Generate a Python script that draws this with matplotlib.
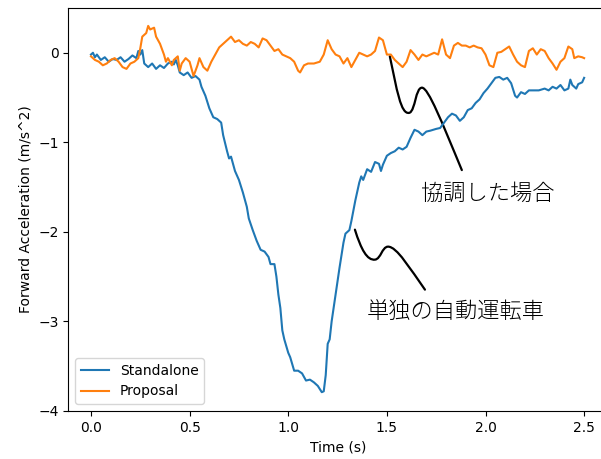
import numpy as np
import matplotlib
matplotlib.use("Agg")
import matplotlib.pyplot as plt
from matplotlib.path import Path
from matplotlib.patches import PathPatch

# ---- data ----
standalone_t = [0.00, 0.01, 0.02, 0.03, 0.05, 0.07, 0.09, 0.11, 0.13, 0.15, 0.17, 0.19, 0.21, 0.23,
                0.24, 0.25, 0.26, 0.27, 0.29, 0.31, 0.33, 0.35, 0.37, 0.39, 0.41, 0.42, 0.43, 0.44,
                0.45, 0.47, 0.49, 0.51, 0.53, 0.55, 0.56, 0.58, 0.60, 0.62, 0.64, 0.66, 0.67, 0.69,
                0.70, 0.71, 0.73, 0.75, 0.77, 0.79, 0.80, 0.82, 0.84, 0.86, 0.88, 0.90, 0.91, 0.93,
                0.94, 0.95, 0.96, 0.97, 0.98, 1.00, 1.01, 1.03, 1.05, 1.07, 1.09, 1.11, 1.13, 1.15,
                1.17, 1.18, 1.19, 1.20, 1.21, 1.22, 1.24, 1.26, 1.28, 1.29, 1.31, 1.32, 1.34, 1.36,
                1.37, 1.38, 1.40, 1.42, 1.44, 1.46, 1.47, 1.48, 1.50, 1.52, 1.54, 1.56, 1.58, 1.60,
                1.62, 1.64, 1.66, 1.68, 1.70, 1.72, 1.75, 1.77, 1.79, 1.81, 1.83, 1.85, 1.87, 1.89,
                1.91, 1.93, 1.95, 1.97, 1.99, 2.01, 2.03, 2.05, 2.07, 2.09, 2.11, 2.13, 2.15, 2.16,
                2.18, 2.20, 2.22, 2.24, 2.27, 2.30, 2.32, 2.34, 2.36, 2.38, 2.40, 2.42, 2.43, 2.44,
                2.46, 2.47, 2.49, 2.50]
standalone_a = [-0.02, 0.00, -0.05, -0.02, -0.08, -0.05, -0.10, -0.07, -0.08, -0.05, -0.10, -0.07, -0.03, -0.06,
                0.02, -0.02, 0.03, -0.12, -0.16, -0.12, -0.18, -0.14, -0.17, -0.12, -0.10, -0.13, -0.08, -0.14,
                -0.22, -0.25, -0.22, -0.28, -0.26, -0.30, -0.38, -0.48, -0.62, -0.72, -0.74, -0.78, -0.92, -1.10,
                -1.18, -1.16, -1.32, -1.42, -1.56, -1.72, -1.85, -1.98, -2.10, -2.20, -2.22, -2.28, -2.36, -2.36,
                -2.50, -2.70, -2.85, -3.10, -3.20, -3.35, -3.40, -3.55, -3.55, -3.58, -3.66, -3.65, -3.68, -3.72,
                -3.79, -3.78, -3.60, -3.25, -3.20, -3.00, -2.70, -2.40, -2.12, -2.02, -1.98, -1.88, -1.65, -1.45,
                -1.38, -1.42, -1.30, -1.33, -1.22, -1.24, -1.32, -1.25, -1.15, -1.12, -1.10, -1.06, -1.08, -1.05,
                -0.95, -0.86, -0.88, -0.92, -0.88, -0.87, -0.85, -0.84, -0.78, -0.72, -0.68, -0.70, -0.76, -0.72,
                -0.64, -0.62, -0.56, -0.52, -0.45, -0.40, -0.34, -0.28, -0.27, -0.30, -0.28, -0.34, -0.48, -0.50,
                -0.44, -0.46, -0.42, -0.42, -0.42, -0.40, -0.42, -0.38, -0.40, -0.36, -0.42, -0.40, -0.30, -0.36,
                -0.40, -0.35, -0.33, -0.28]

proposal_t = [0.00, 0.02, 0.04, 0.06, 0.08, 0.10, 0.12, 0.14, 0.16, 0.18, 0.20, 0.22, 0.24, 0.25,
              0.26, 0.28, 0.29, 0.30, 0.32, 0.33, 0.35, 0.36, 0.37, 0.38, 0.39, 0.41, 0.42, 0.44,
              0.45, 0.46, 0.48, 0.50, 0.52, 0.54, 0.55, 0.57, 0.59, 0.61, 0.63, 0.65, 0.67, 0.69,
              0.71, 0.73, 0.75, 0.77, 0.79, 0.81, 0.83, 0.85, 0.87, 0.89, 0.91, 0.93, 0.95, 0.97,
              0.99, 1.01, 1.03, 1.05, 1.06, 1.08, 1.10, 1.13, 1.16, 1.18, 1.20, 1.22, 1.24, 1.26,
              1.28, 1.30, 1.32, 1.34, 1.36, 1.38, 1.40, 1.42, 1.44, 1.46, 1.48, 1.50, 1.52, 1.54,
              1.56, 1.58, 1.60, 1.62, 1.64, 1.66, 1.68, 1.70, 1.72, 1.74, 1.76, 1.78, 1.80, 1.82,
              1.84, 1.86, 1.88, 1.90, 1.92, 1.94, 1.96, 1.98, 2.00, 2.02, 2.04, 2.06, 2.08, 2.10,
              2.12, 2.14, 2.16, 2.18, 2.20, 2.22, 2.24, 2.26, 2.28, 2.30, 2.32, 2.34, 2.36, 2.38,
              2.40, 2.42, 2.44, 2.45, 2.47, 2.49, 2.50]
proposal_a = [-0.04, -0.08, -0.10, -0.14, -0.12, -0.08, -0.06, -0.10, -0.16, -0.18, -0.12, -0.10, -0.06, 0.05,
              0.18, 0.22, 0.30, 0.26, 0.28, 0.18, 0.10, 0.04, -0.02, -0.10, -0.06, -0.14, -0.08, -0.04,
              -0.20, -0.12, -0.06, -0.10, -0.26, -0.14, -0.06, -0.16, -0.20, -0.10, -0.02, 0.06, 0.10, 0.14,
              0.18, 0.12, 0.14, 0.10, 0.08, 0.12, 0.10, 0.06, 0.16, 0.14, 0.08, 0.02, 0.04, -0.02,
              -0.04, -0.06, -0.10, -0.20, -0.22, -0.14, -0.12, -0.12, -0.10, -0.02, 0.14, 0.04, -0.02, -0.04,
              -0.12, -0.06, -0.16, -0.08, 0.00, -0.02, -0.04, -0.02, 0.02, 0.17, 0.14, -0.02, -0.02, -0.08,
              -0.12, -0.16, -0.10, 0.03, -0.02, -0.08, -0.02, -0.04, -0.02, 0.00, -0.02, 0.15, -0.02, -0.06,
              0.08, 0.11, 0.08, 0.08, 0.06, 0.08, 0.06, 0.05, -0.02, -0.14, -0.16, 0.00, 0.01, 0.04,
              0.07, -0.02, -0.10, -0.14, -0.16, 0.02, 0.05, -0.02, 0.04, 0.02, -0.06, -0.12, -0.19, -0.10,
              -0.06, 0.07, 0.04, -0.06, -0.04, -0.05, -0.06]

series_labels = ["Standalone", "Proposal"]
x_ticks = [0.0, 0.5, 1.0, 1.5, 2.0, 2.5]
y_ticks = [0, -1, -2, -3, -4]
x_label = "Time (s)"
y_label = "Forward Acceleration (m/s^2)"

note_coop = "協調した場合"
note_solo = "単独の自動運転車"

# annotation strokes (Bezier control points in data coordinates)
coop_stroke = [(1.515, -0.04), (1.55, -0.40), (1.57, -0.70), (1.615, -0.67),
               (1.645, -0.64), (1.645, -0.39), (1.678, -0.39),
               (1.71, -0.39), (1.78, -0.78), (1.88, -1.31)]
solo_stroke = [(1.338, -1.975), (1.37, -2.20), (1.40, -2.32), (1.44, -2.31),
               (1.47, -2.30), (1.475, -2.17), (1.505, -2.165),
               (1.55, -2.16), (1.62, -2.42), (1.693, -2.645)]

# ---- figure ----
plt.rcParams['font.family'] = ['DejaVu Sans']
fig = plt.figure(figsize=(6.01, 4.59), dpi=100)
ax = fig.add_axes([0.1138, 0.1046, 0.899, 0.878])

ax.plot(standalone_t, standalone_a, color='#1f77b4', lw=1.5, label=series_labels[0])
ax.plot(proposal_t, proposal_a, color='#ff7f0e', lw=1.5, label=series_labels[1])

ax.set_xlim(-0.1145, 2.6245)
ax.set_ylim(-4, 0.5)
ax.set_xticks(x_ticks)
ax.set_xticklabels([f"{v:.1f}" for v in x_ticks])
ax.set_yticks(y_ticks)
ax.set_yticklabels([("\u2212" + str(abs(v))) if v < 0 else str(v) for v in y_ticks])
ax.set_xlabel(x_label)
ax.set_ylabel(y_label)
ax.legend(loc='lower left')

def bezier_patch(pts):
    codes = [Path.MOVETO] + [Path.CURVE4] * (len(pts) - 1)
    return PathPatch(Path(pts, codes), facecolor='none', edgecolor='black', lw=1.6,
                     transform=ax.transData, capstyle='round')

ax.add_patch(bezier_patch(coop_stroke))
ax.add_patch(bezier_patch(solo_stroke))

cjk = ['Noto Sans CJK JP', 'DejaVu Sans']
ax.text(1.672, -1.575, note_coop, fontsize=16, family=cjk, fontweight='light',
        ha='left', va='center', color='black')
ax.text(1.398, -2.894, note_solo, fontsize=16, family=cjk, fontweight='light',
        ha='left', va='center', color='black')

fig.savefig('out.png', dpi=100)
